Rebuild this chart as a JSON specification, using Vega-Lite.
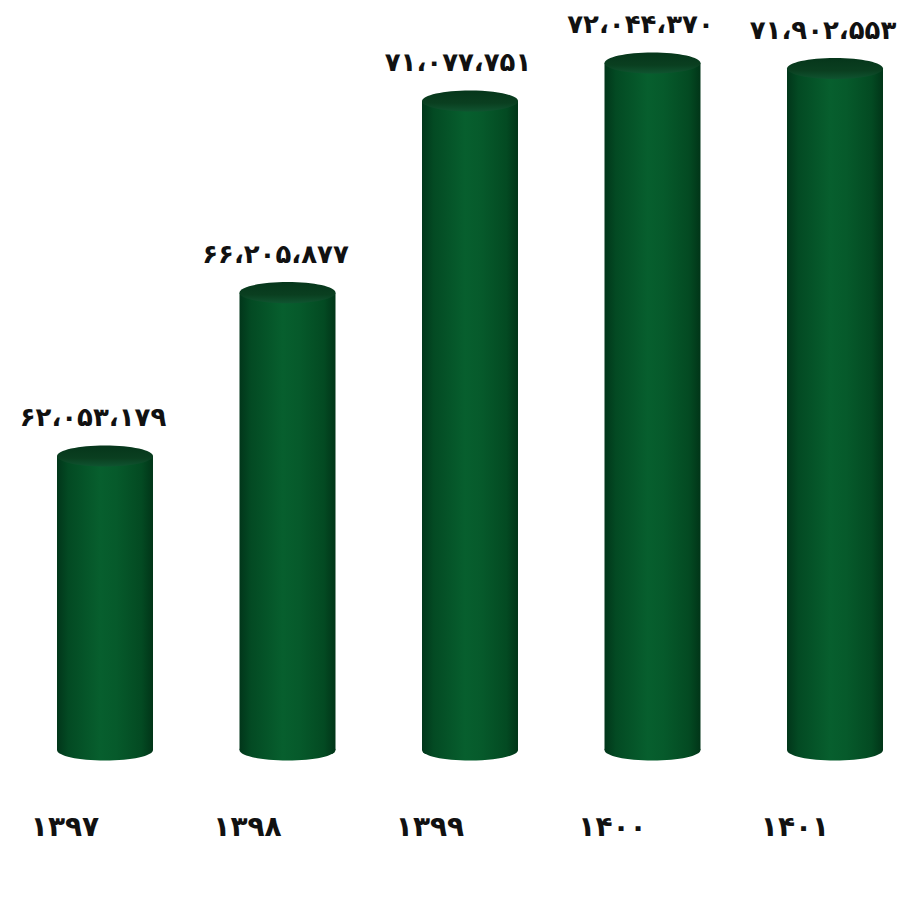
{
  "$schema": "https://vega.github.io/schema/vega-lite/v6.json",
  "width": 899,
  "height": 898,
  "padding": 0,
  "autosize": "none",
  "background": "#ffffff",
  "config": {"view": {"stroke": null}},
  "data": {"values": [
    {"year": "۱۳۹۷", "value": 62053179, "label": "۶۲،۰۵۳،۱۷۹"},
    {"year": "۱۳۹۸", "value": 66205877, "label": "۶۶،۲۰۵،۸۷۷"},
    {"year": "۱۳۹۹", "value": 71077751, "label": "۷۱،۰۷۷،۷۵۱"},
    {"year": "۱۴۰۰", "value": 72044370, "label": "۷۲،۰۴۴،۳۷۰"},
    {"year": "۱۴۰۱", "value": 71902553, "label": "۷۱،۹۰۲،۵۵۳"}
  ]},
  "encoding": {
    "x": {"field": "year", "type": "nominal", "sort": null, "axis": null,
          "scale": {"range": [57, 883], "paddingInner": 0.474, "paddingOuter": 0}}
  },
  "layer": [
    {
      "mark": {"type": "bar", "fill": {"gradient": "linear", "x1": 0, "x2": 1, "y1": 0, "y2": 0,
        "stops": [{"offset": 0, "color": "#01361a"}, {"offset": 0.12, "color": "#034a23"}, {"offset": 0.45, "color": "#075f2e"}, {"offset": 0.62, "color": "#065a2b"}, {"offset": 0.88, "color": "#034a22"}, {"offset": 1, "color": "#013518"}]}},
      "encoding": {
        "y": {"field": "value", "type": "quantitative", "axis": null,
              "scale": {"domain": [50815000, 73647000], "zero": false, "nice": false}},
        "y2": {"datum": 54578000}
      }
    },
    {
      "mark": {"type": "point", "filled": true, "opacity": 1, "size": 9216,
        "shape": "M-1,0A1,0.22,0,1,0,1,0A1,0.22,0,1,0,-1,0Z",
        "fill": {"gradient": "linear", "x1": 0, "x2": 1, "y1": 0, "y2": 0,
        "stops": [{"offset": 0, "color": "#01361a"}, {"offset": 0.12, "color": "#034a23"}, {"offset": 0.45, "color": "#075f2e"}, {"offset": 0.62, "color": "#065a2b"}, {"offset": 0.88, "color": "#034a22"}, {"offset": 1, "color": "#013518"}]}},
      "encoding": {"y": {"datum": 54578000, "type": "quantitative"}}
    },
    {
      "mark": {"type": "point", "filled": true, "opacity": 1, "size": 9216,
        "shape": "M-1,0A1,0.22,0,1,0,1,0A1,0.22,0,1,0,-1,0Z",
        "fill": {"gradient": "linear", "x1": 0, "x2": 0, "y1": 0, "y2": 1,
        "stops": [{"offset": 0, "color": "#06361b"}, {"offset": 0.6, "color": "#0a3f20"}, {"offset": 1, "color": "#0f5430"}]}},
      "encoding": {"y": {"field": "value", "type": "quantitative"}}
    },
    {
      "mark": {"type": "text", "font": "DejaVu Sans", "fontWeight": "bold", "fontSize": 26, "color": "#111111", "baseline": "middle", "dy": -38, "dx": -12},
      "encoding": {"y": {"field": "value", "type": "quantitative"}, "text": {"field": "label"}}
    },
    {
      "mark": {"type": "text", "font": "DejaVu Sans", "fontWeight": "bold", "fontSize": 28, "color": "#111111", "baseline": "middle", "dx": -40},
      "encoding": {"y": {"datum": 52600000, "type": "quantitative"}, "text": {"field": "year"}}
    }
  ]
}
